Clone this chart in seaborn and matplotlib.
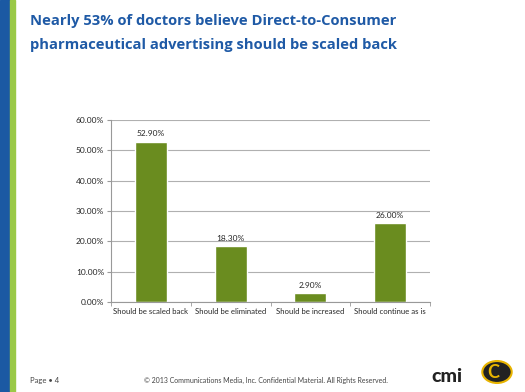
import seaborn as sns
import matplotlib.pyplot as plt
import pandas as pd
from matplotlib.patches import Rectangle, Circle
from matplotlib.ticker import FixedLocator, PercentFormatter

categories = ["Should be scaled back", "Should be eliminated",
              "Should be increased", "Should continue as is"]
values = [52.9, 18.3, 2.9, 26.0]
y_ticks = [0, 10, 20, 30, 40, 50, 60]

df = pd.DataFrame({"answer": categories, "pct": values})

sns.set_style("white")
plt.rcParams['font.family'] = ['Lato', 'DejaVu Sans']

fig = plt.figure(figsize=(5.25, 3.92), dpi=100)

# side stripes
fig.patches.append(Rectangle((0, 0), 10 / 525, 1, transform=fig.transFigure,
                             color='#1b59a3', zorder=0))
fig.patches.append(Rectangle((10 / 525, 0), 5 / 525, 1, transform=fig.transFigure,
                             color='#9ac947', zorder=0))

fig.text(30 / 525, 1 - 21 / 392, "Nearly 53% of doctors believe Direct-to-Consumer",
         fontsize=10.6, fontweight='bold', color='#1f5aa6', va='center',
         family=['Open Sans', 'DejaVu Sans'])
fig.text(30 / 525, 1 - 45 / 392, "pharmaceutical advertising should be scaled back",
         fontsize=10.6, fontweight='bold', color='#1f5aa6', va='center',
         family=['Open Sans', 'DejaVu Sans'])

ax = fig.add_axes([111 / 525, 1 - 302 / 392, 319 / 525, 182 / 392])
sns.barplot(data=df, x="answer", y="pct", color='#6a8c1f', width=0.4,
            saturation=1, ax=ax)

ax.set_ylim(0, 60)
ax.set_xlim(-0.5, 3.5)
ax.set_yticks(y_ticks)
ax.yaxis.set_major_formatter(PercentFormatter(decimals=2))
ax.yaxis.grid(True, color='#b0b0b0', linewidth=0.8)
ax.set_axisbelow(True)
ax.set_xlabel("")
ax.set_ylabel("")
for s in ['top', 'right']:
    ax.spines[s].set_visible(False)
for s in ['left', 'bottom']:
    ax.spines[s].set_color('#999999')
    ax.spines[s].set_linewidth(0.8)
ax.tick_params(axis='y', labelsize=6, length=3, left=True, color='#999999', pad=2)
ax.tick_params(axis='x', labelsize=5.6, length=0, pad=4)
ax.xaxis.set_minor_locator(FixedLocator([-0.5, 0.5, 1.5, 2.5, 3.5]))
ax.tick_params(axis='x', which='minor', length=3, bottom=True, color='#999999')

for i, v in enumerate(values):
    ax.text(i, v + 1.5, f"{v:.2f}%", ha='center', va='bottom', fontsize=6)

fig.text(30 / 525, 1 - 381 / 392, "Page \u2022 4", fontsize=5.5, color='#444444', va='center')
fig.text(266 / 525, 1 - 380 / 392,
         "\u00a9 2013 Communications Media, Inc. Confidential Material. All Rights Reserved.",
         fontsize=5, color='#444444', ha='center', va='center')

# logos (approximate)
fig.text(447 / 525, 1 - 376 / 392, "cmi", fontsize=14, fontweight='black',
         color='#222222', ha='center', va='center')
fig.patches.append(Circle((497 / 525, 1 - 372 / 392), 0.028, transform=fig.transFigure,
                          facecolor='#222222', edgecolor='#e8b400', linewidth=1.5))
fig.text(493 / 525, 1 - 372 / 392, "C", fontsize=13, fontweight='bold',
         color='#e8b400', ha='center', va='center')

fig.savefig("out.png", dpi=100)
